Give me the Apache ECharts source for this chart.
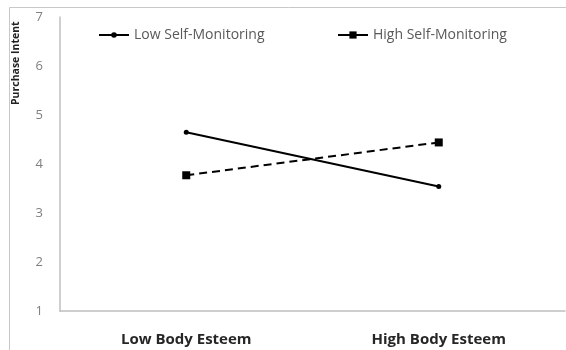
<!DOCTYPE html>
<html>
<head>
<meta charset="utf-8">
<script src="https://cdn.jsdelivr.net/npm/echarts@6/dist/echarts.min.js"></script>
<style>
  html, body { margin: 0; padding: 0; background: #fff; }
  #chart { width: 566px; height: 350px; }
</style>
</head>
<body>
<div id="chart"></div>
<script>
const categories = ["Low Body Esteem", "High Body Esteem"];
const lowSelfMonitoring = [4.65, 3.54];
const highSelfMonitoring = [3.77, 4.44];
const yTicks = [1, 7, 1]; // min, max, interval

const chart = echarts.init(document.getElementById("chart"));
const font = "'Open Sans', 'Noto Sans', sans-serif";

const legendText = { color: "#595959", fontSize: 14, fontFamily: font };

chart.setOption({
  animation: false,
  grid: { left: 60, top: 17, right: 1, bottom: 39 },
  graphic: [
    {
      type: "rect",
      shape: { x: 9.5, y: 7.5, width: 600, height: 400 },
      style: { fill: "none", stroke: "#c8c8c8", lineWidth: 1 },
      silent: true,
    },
    {
      type: "text",
      x: 11,
      y: 105,
      rotation: Math.PI / 2,
      style: {
        text: "Purchase Intent",
        fill: "#222",
        font: "bold 10.5px " + font,
      },
    },
  ],
  // two legends so each item sits where the reference has it
  legend: [
    {
      top: 23,
      left: 93,
      itemWidth: 30,
      itemHeight: 7,
      lineStyle: { type: "solid" },
      textStyle: legendText,
      data: ["Low Self-Monitoring"],
    },
    {
      top: 23,
      left: 332,
      itemWidth: 30,
      itemHeight: 9,
      lineStyle: { type: "solid" },
      textStyle: legendText,
      data: ["High Self-Monitoring"],
    },
  ],
  xAxis: {
    type: "category",
    data: categories,
    axisLine: { lineStyle: { color: "#bfbfbf", width: 1.5 } },
    axisTick: { show: false },
    axisLabel: {
      color: "#262626",
      fontWeight: "bold",
      fontSize: 15,
      fontFamily: font,
      margin: 21,
    },
  },
  yAxis: {
    type: "value",
    min: yTicks[0],
    max: yTicks[1],
    interval: yTicks[2],
    axisLine: { show: true, lineStyle: { color: "#bfbfbf", width: 1.5 } },
    axisTick: { show: false },
    splitLine: { show: false },
    axisLabel: { color: "#7f7f7f", fontSize: 13, fontFamily: font, margin: 17 },
  },
  series: [
    {
      name: "Low Self-Monitoring",
      type: "line",
      data: lowSelfMonitoring,
      symbol: "circle",
      symbolSize: 5,
      itemStyle: { color: "#000" },
      lineStyle: { color: "#000", width: 2 },
    },
    {
      name: "High Self-Monitoring",
      type: "line",
      data: highSelfMonitoring,
      symbol: "rect",
      symbolSize: 8,
      itemStyle: { color: "#000" },
      lineStyle: { color: "#000", width: 2, type: [8, 5] },
    },
  ],
});
</script>
</body>
</html>
